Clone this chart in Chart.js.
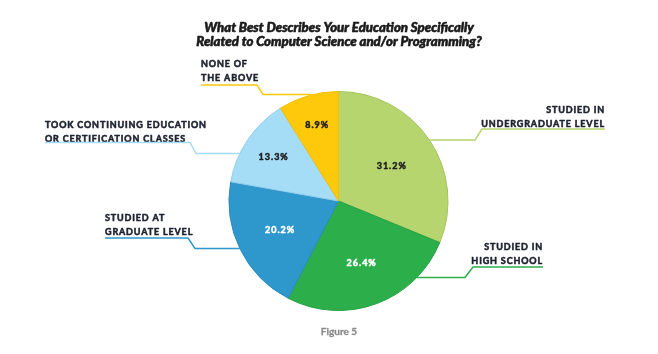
<!DOCTYPE html>
<html>
<head>
<meta charset="utf-8">
<script src="https://cdn.jsdelivr.net/npm/chart.js@4.4.1/dist/chart.umd.min.js"></script>
<style>
  html, body { margin: 0; padding: 0; background: #ffffff; }
  #wrap { width: 658px; height: 354px; position: relative; }
</style>
</head>
<body>
<div id="wrap"><canvas id="c" width="658" height="354"></canvas></div>
<script>
// ---- Data ----
const categories = [
  "Studied in undergraduate level",
  "Studied in high school",
  "Studied at graduate level",
  "Took continuing education or certification classes",
  "None of the above"
];
const labelLines = [
  ["STUDIED IN", "UNDERGRADUATE LEVEL"],
  ["STUDIED IN", "HIGH SCHOOL"],
  ["STUDIED AT", "GRADUATE LEVEL"],
  ["TOOK CONTINUING EDUCATION", "OR CERTIFICATION CLASSES"],
  ["NONE OF", "THE ABOVE"]
];
const values = [31.2, 26.4, 20.2, 13.3, 8.9];
const titleLines = ["What Best Describes Your Education Specifically", "Related to Computer Science and/or Programming?"];
const footerText = "Figure 5";

// ---- Styles ----
const colors = ["#b7d56f", "#2cae4b", "#2e97cc", "#a5dcf6", "#fec90b"];
const borders = ["#a3c45c", "#27a043", "#2a8bbd", "#93cfea", "#f2bd05"];
const valueTextColors = ["#1f1f1f", "#ffffff", "#ffffff", "#1f1f1f", "#1f1f1f"];
const valueRadius = [0.58, 0.6, 0.6, 0.72, 0.72];

// Callout layout: side, text anchor x, first baseline, underline y, underline far x, elbow end (x,y)
const callouts = [
  { side: "right", tx: 605, by: 113, uy: 129, ux: 482, ex: 475, ey: 140 },
  { side: "right", tx: 543, by: 250, uy: 267, ux: 473, ex: 465, ey: 277.5 },
  { side: "left",  tx: 105, by: 221, uy: 238, ux: 188, ex: 195, ey: 248.5 },
  { side: "left",  tx: 45,  by: 128, uy: 142.5, ux: 190, ex: 196, ey: 153.5 },
  { side: "left",  tx: 201, by: 67,  uy: 85,  ux: 257, ex: 263, ey: 94.5 }
];

function boldText(ctx, t, x, y, w) {
  ctx.lineWidth = w;
  ctx.lineJoin = "round";
  ctx.strokeStyle = ctx.fillStyle;
  ctx.strokeText(t, x, y);
  ctx.fillText(t, x, y);
}

const decorPlugin = {
  id: "decor",
  afterDatasetsDraw(chart) {
    const ctx = chart.ctx;
    const meta = chart.getDatasetMeta(0);
    const arcs = meta.data;
    ctx.save();
    // value labels
    arcs.forEach((arc, i) => {
      const p = arc.getProps(["x", "y", "startAngle", "endAngle", "outerRadius"], true);
      const mid = (p.startAngle + p.endAngle) / 2;
      const rr = p.outerRadius * valueRadius[i];
      const x = p.x + Math.cos(mid) * rr;
      const y = p.y + Math.sin(mid) * rr;
      ctx.font = "bold 9px Lato, 'DejaVu Sans', sans-serif";
      ctx.letterSpacing = "1px";
      ctx.fillStyle = valueTextColors[i];
      ctx.textAlign = "center";
      ctx.textBaseline = "middle";
      boldText(ctx, values[i].toFixed(1) + "%", x + 0.5, y, 0.5);
    });
    // callouts
    arcs.forEach((arc, i) => {
      const p = arc.getProps(["x", "y", "outerRadius"], true);
      const c = callouts[i];
      ctx.font = "bold 9px Lato, 'DejaVu Sans', sans-serif";
      ctx.letterSpacing = "0.85px";
      ctx.fillStyle = "#1d2230";
      ctx.textBaseline = "alphabetic";
      ctx.textAlign = c.side === "left" ? "left" : "right";
      labelLines[i].forEach((t, k) => {
        boldText(ctx, t, c.tx, c.by + k * 14, 0.55);
      });
      const dy = c.ey - p.y;
      const dx = Math.sqrt(Math.max(0, p.outerRadius * p.outerRadius - dy * dy));
      const edgeX = c.side === "left" ? p.x - dx : p.x + dx;
      ctx.strokeStyle = colors[i];
      ctx.lineWidth = 1.5;
      ctx.lineJoin = "miter";
      ctx.beginPath();
      ctx.moveTo(c.tx, c.uy);
      ctx.lineTo(c.ux, c.uy);
      ctx.lineTo(c.ex, c.ey);
      ctx.lineTo(edgeX, c.ey);
      ctx.stroke();
    });
    // title
    ctx.letterSpacing = "0px";
    ctx.fillStyle = "#1a1a1a";
    ctx.textAlign = "center";
    ctx.textBaseline = "alphabetic";
    ctx.font = "italic 900 13.2px Lato, 'DejaVu Sans', sans-serif";
    boldText(ctx, titleLines[0], 339, 32, 0.6);
    boldText(ctx, titleLines[1], 339, 45.5, 0.6);
    // footer
    ctx.font = "bold 10px Lato, 'DejaVu Sans', sans-serif";
    ctx.fillStyle = "#8a8a8a";
    boldText(ctx, footerText, 339, 335, 0.3);
    ctx.restore();
  }
};

new Chart(document.getElementById("c"), {
  type: "pie",
  data: {
    labels: categories,
    datasets: [{
      data: values,
      backgroundColor: colors,
      borderColor: borders,
      borderWidth: 1
    }]
  },
  options: {
    responsive: false,
    animation: false,
    layout: { padding: { top: 91, bottom: 43, left: 200, right: 181 } },
    plugins: {
      legend: { display: false },
      tooltip: { enabled: false },
      title: { display: false }
    }
  },
  plugins: [decorPlugin]
});
</script>
</body>
</html>
